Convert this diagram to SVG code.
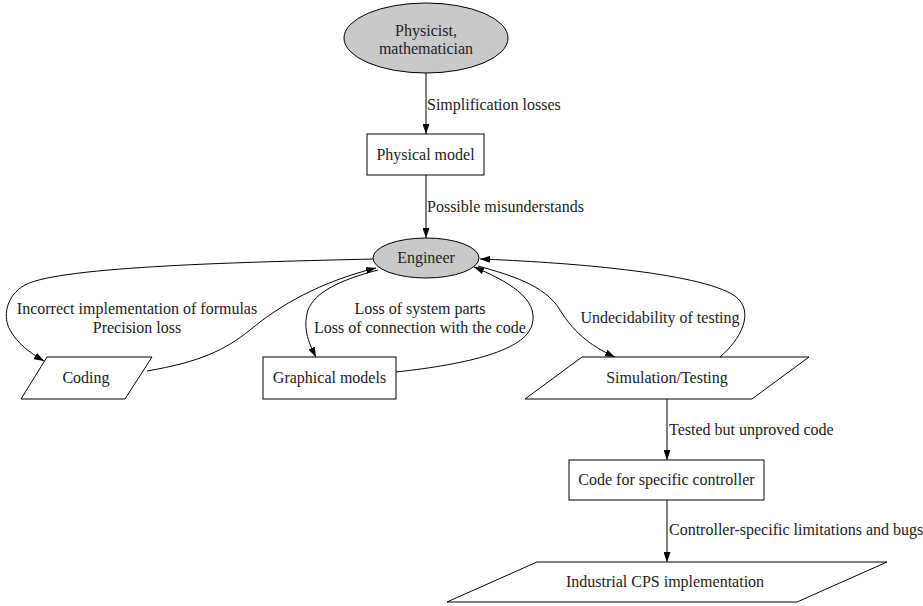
<svg xmlns="http://www.w3.org/2000/svg" width="923" height="606" viewBox="0 0 923 606">
  <style>
    text { font-family: 'Liberation Serif', 'Times New Roman', Times, serif; font-size: 16px; fill: #222; }
    .c { text-anchor: middle; }
    .shape { fill: #fff; stroke: #000; stroke-width: 1; }
    .person { fill: #c9c9c9; stroke: #000; stroke-width: 1; }
    .edge { fill: none; stroke: #000; stroke-width: 1; marker-end: url(#arrow); }
  </style>
  <defs>
    <marker id="arrow" markerWidth="10" markerHeight="7" refX="10" refY="3.5" orient="auto" markerUnits="userSpaceOnUse">
      <path d="M0,0 L10,3.5 L0,7 z" fill="#000"/>
    </marker>
  </defs>
  <rect width="923" height="606" fill="#fff"/>

  <g id="edges">
    <path class="edge" d="M426,73 L426,134"/>
    <path class="edge" d="M426,175 L426,238"/>
    <!-- Engineer to Coding -->
    <path class="edge" d="M374,259 C250,262 60,266 25,285 C5,296 3,318 10,330 C17,343 30,353 44,361"/>
    <!-- Coding to Engineer -->
    <path class="edge" d="M147,371 C200,362 225,350 250,330 C280,305 320,282 376,268"/>
    <!-- Engineer to Graphical models -->
    <path class="edge" d="M378,270 C340,280 315,292 308,310 C302,330 310,345 316,357"/>
    <!-- Graphical models to Engineer -->
    <path class="edge" d="M396,372 C470,364 525,350 532,325 C540,298 505,280 474,267"/>
    <!-- Engineer to Simulation/Testing -->
    <path class="edge" d="M478,266 C510,275 545,285 560,310 C575,335 595,348 615,357"/>
    <!-- Simulation/Testing to Engineer -->
    <path class="edge" d="M720,357 C740,340 756,312 735,296 C700,272 560,262 480,259"/>
    <path class="edge" d="M667,399 L667,460"/>
    <path class="edge" d="M667,500 L667,562"/>

    <text x="427" y="110">Simplification losses</text>
    <text x="427" y="212">Possible misunderstands</text>
    <text class="c" x="137" y="314">Incorrect implementation of formulas</text>
    <text class="c" x="137" y="333">Precision loss</text>
    <text class="c" x="420" y="314">Loss of system parts</text>
    <text class="c" x="420" y="333">Loss of connection with the code</text>
    <text class="c" x="660" y="323">Undecidability of testing</text>
    <text x="669" y="435">Tested but unproved code</text>
    <text x="669" y="535">Controller-specific limitations and bugs</text>
  </g>

  <g id="physicist">
    <ellipse class="person" cx="426" cy="38" rx="82" ry="35"/>
    <text class="c" x="426" y="36">Physicist,</text>
    <text class="c" x="426" y="54">mathematician</text>
  </g>
  <g id="physical-model">
    <rect class="shape" x="367" y="134" width="117" height="41"/>
    <text class="c" x="425.5" y="160">Physical model</text>
  </g>
  <g id="engineer">
    <ellipse class="person" cx="426" cy="258" rx="53" ry="20"/>
    <text class="c" x="426" y="263">Engineer</text>
  </g>
  <g id="coding">
    <polygon class="shape" points="47,357 152,357 125,399 21,399"/>
    <text class="c" x="86" y="383">Coding</text>
  </g>
  <g id="graphical-models">
    <rect class="shape" x="263" y="357" width="133" height="42"/>
    <text class="c" x="329.5" y="383">Graphical models</text>
  </g>
  <g id="simulation">
    <polygon class="shape" points="582,357 809,357 752,399 525,399"/>
    <text class="c" x="667" y="383">Simulation/Testing</text>
  </g>
  <g id="controller-code">
    <rect class="shape" x="569" y="460" width="195" height="40"/>
    <text class="c" x="666.5" y="485">Code for specific controller</text>
  </g>
  <g id="cps">
    <polygon class="shape" points="537,562 887,562 797,602 447,602"/>
    <text class="c" x="665" y="587">Industrial CPS implementation</text>
  </g>
</svg>
